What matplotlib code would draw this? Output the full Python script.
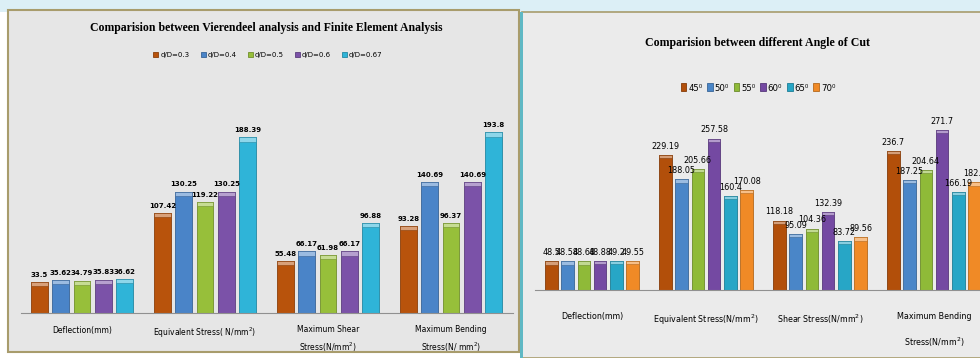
import numpy as np
import matplotlib.pyplot as plt
from matplotlib.patches import Rectangle
from matplotlib.colors import to_rgb
from matplotlib import font_manager
from matplotlib.font_manager import FontProperties

# left chart: Vierendeel vs FEA
left_categories = ["Deflection(mm)", "Equivalent Stress( N/mm$^2$)",
                   "Maximum Shear\nStress(N/mm$^2$)", "Maximum Bending\nStress(N/ mm$^2$)"]
left_series = ["d/D=0.3", "d/D=0.4", "d/D=0.5", "d/D=0.6", "d/D=0.67"]
dD_03 = [33.5, 107.42, 55.48, 93.28]
dD_04 = [35.62, 130.25, 66.17, 140.69]
dD_05 = [34.79, 119.22, 61.98, 96.37]
dD_06 = [35.83, 130.25, 66.17, 140.69]
dD_067 = [36.62, 188.39, 96.88, 193.8]
left_colors = ["#b8530c", "#4a84c8", "#97bf3a", "#7b52a8", "#2fb4d8"]

# right chart: angle of cut
right_categories = ["Deflection(mm)", "Equivalent Stress(N/mm$^2$)",
                    "Shear Stress(N/mm$^2$)", "Maximum Bending\nStress(N/mm$^2$)"]
right_series = ["45\u2070", "50\u2070", "55\u2070", "60\u2070", "65\u2070", "70\u2070"]
angle_45 = [48.5, 229.19, 118.18, 236.7]
angle_50 = [48.58, 188.05, 95.09, 187.25]
angle_55 = [48.68, 205.66, 104.36, 204.64]
angle_60 = [48.88, 257.58, 132.39, 271.7]
angle_65 = [49.2, 160.4, 83.72, 166.19]
angle_70 = [49.55, 170.08, 89.56, 182.9]
right_colors = ["#b24f0a", "#4a86c8", "#8fba38", "#7449a2", "#27a6c6", "#f08a26"]

# pick a narrow font if one is installed
fonts = font_manager.fontManager.ttflist


def has(name, stretch=None):
    return any(f.name == name and (stretch is None or f.stretch == stretch) for f in fonts)


if has("Liberation Sans Narrow"):
    sans_fam, sans_str, shrink = ["Liberation Sans Narrow", "DejaVu Sans"], "normal", 1.0
elif has("DejaVu Sans", "condensed"):
    sans_fam, sans_str, shrink = ["DejaVu Sans"], "condensed", 0.95
else:
    sans_fam, sans_str, shrink = ["DejaVu Sans"], "normal", 0.78


def narrow(size, weight="normal"):
    return FontProperties(family=sans_fam, stretch=sans_str, size=size * shrink, weight=weight)


def lighter(c, f=0.45):
    r, g, b = to_rgb(c)
    return (r + (1 - r) * f, g + (1 - g) * f, b + (1 - b) * f)


def darker(c, f=0.75):
    r, g, b = to_rgb(c)
    return (r * f, g * f, b * f)


def draw_bars(ax, data, colors, labels, slot, width, ymax, font):
    x = np.arange(len(data[0]))
    n = len(data)
    cap = ymax * 0.018
    for i, vals in enumerate(data):
        pos = x + (i - (n - 1) / 2) * slot
        vals = np.array(vals)
        ax.bar(pos, vals, width, color=colors[i], edgecolor=darker(colors[i]),
               linewidth=0.6, label=labels[i], zorder=2)
        ax.bar(pos, cap, width, bottom=vals - cap, color=lighter(colors[i]),
               edgecolor=darker(colors[i]), linewidth=0.4, zorder=3)
        for p, v in zip(pos, vals):
            ax.annotate(f"{v:g}", (p, v), xytext=(0, 3), textcoords="offset points",
                        ha="center", va="bottom", fontproperties=font,
                        color="black", zorder=4)
    ax.set_ylim(0, ymax)
    ax.set_xlim(-0.5, len(x) - 0.5)
    ax.set_xticks(x)
    ax.set_yticks([])
    for s in ["top", "right", "left"]:
        ax.spines[s].set_visible(False)
    ax.spines["bottom"].set_color("#909090")
    ax.tick_params(axis="x", length=0)
    ax.set_facecolor("none")


fig = plt.figure(figsize=(9.8, 3.58), dpi=100)
W, H = 980, 358


def rect(x0, y0, x1, y1, **kw):
    fig.add_artist(Rectangle((x0 / W, 1 - y1 / H), (x1 - x0) / W, (y1 - y0) / H,
                             transform=fig.transFigure, zorder=-10, **kw))


# panel backgrounds
rect(0, 0, 980, 12, facecolor="#dceff6", edgecolor="none")
rect(8, 10, 519, 352, facecolor="#e6e6e6", edgecolor="#a89c6c", linewidth=1.5)
rect(522, 12, 985, 358, facecolor="#ebebeb", edgecolor="#a89c6c", linewidth=1.2)
rect(520, 12, 523, 358, facecolor="#5fb8c4", edgecolor="none")

ax1 = fig.add_axes([20.5 / W, 45 / H, 492 / W, 233 / H])
draw_bars(ax1, [dD_03, dD_04, dD_05, dD_06, dD_067], left_colors, left_series,
          0.173, 0.138, 250, FontProperties(family="DejaVu Sans", size=5, weight="bold"))
ax1.set_xticklabels(left_categories, fontsize=5.5, linespacing=1.6)
ax1.tick_params(axis="x", pad=9)
fig.text(266 / W, 1 - 28 / H,
         "Comparision between Vierendeel analysis and Finite Element Analysis",
         family="Liberation Serif", fontweight="bold", fontsize=8.5,
         ha="center", va="center")
fig.legend(*ax1.get_legend_handles_labels(), loc="center", ncol=5,
           bbox_to_anchor=(268 / W, 1 - 55 / H), frameon=False, fontsize=5,
           handlelength=0.7, handleheight=0.7, columnspacing=1.6, handletextpad=0.3)

ax2 = fig.add_axes([535 / W, 68 / H, 456 / W, 176.4 / H])
draw_bars(ax2, [angle_45, angle_50, angle_55, angle_60, angle_65, angle_70],
          right_colors, right_series, 0.143, 0.11, 300, narrow(6.8))
ax2.set_xticklabels(right_categories, fontproperties=narrow(6.7), linespacing=2.4)
ax2.tick_params(axis="x", pad=16)
fig.text(757 / W, 1 - 43 / H, "Comparision between different Angle of Cut",
         family="Liberation Serif", fontweight="bold", fontsize=8.6,
         ha="center", va="center")
fig.legend(*ax2.get_legend_handles_labels(), loc="center", ncol=6,
           bbox_to_anchor=(758 / W, 1 - 88 / H), frameon=False, prop=narrow(7.2),
           handlelength=0.6, handleheight=0.9, columnspacing=0.5, handletextpad=0.2)

fig.savefig("out.png", dpi=100)
